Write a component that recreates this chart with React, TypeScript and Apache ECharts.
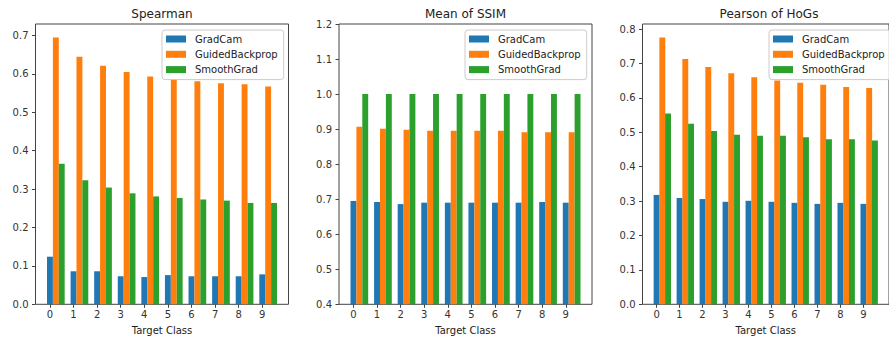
import React, { useEffect, useRef } from "react";
import * as echarts from "echarts";

const classes = [0, 1, 2, 3, 4, 5, 6, 7, 8, 9];
const methodNames = ["GradCam", "GuidedBackprop", "SmoothGrad"];
const methodOffsets = [0, 0.25, 0.5];
const colors = ["#1f77b4", "#ff7f0e", "#2ca02c"];

const titles = ["Spearman", "Mean of SSIM", "Pearson of HoGs"];

const spearmanGradCam = [0.124, 0.086, 0.086, 0.073, 0.071, 0.076, 0.073, 0.073, 0.073, 0.078];
const spearmanGuided = [0.695, 0.645, 0.621, 0.605, 0.593, 0.587, 0.581, 0.576, 0.573, 0.567];
const spearmanSmooth = [0.366, 0.323, 0.304, 0.289, 0.281, 0.277, 0.273, 0.27, 0.264, 0.264];

const ssimGradCam = [0.695, 0.692, 0.686, 0.69, 0.69, 0.69, 0.69, 0.69, 0.692, 0.69];
const ssimGuided = [0.907, 0.901, 0.898, 0.895, 0.895, 0.895, 0.895, 0.891, 0.891, 0.891];
const ssimSmooth = [1.0, 1.0, 1.0, 1.0, 1.0, 1.0, 1.0, 1.0, 1.0, 1.0];

const hogGradCam = [0.318, 0.309, 0.306, 0.298, 0.301, 0.298, 0.295, 0.292, 0.295, 0.292];
const hogGuided = [0.776, 0.713, 0.69, 0.672, 0.66, 0.651, 0.644, 0.638, 0.632, 0.629];
const hogSmooth = [0.555, 0.525, 0.504, 0.493, 0.49, 0.49, 0.486, 0.48, 0.48, 0.476];

const yTicks1 = [0, 0.1, 0.2, 0.3, 0.4, 0.5, 0.6, 0.7];
const yTicks2 = [0.4, 0.5, 0.6, 0.7, 0.8, 0.9, 1.0, 1.1, 1.2];
const yTicks3 = [0, 0.1, 0.2, 0.3, 0.4, 0.5, 0.6, 0.7, 0.8];

const panelData = [
  [spearmanGradCam, spearmanGuided, spearmanSmooth],
  [ssimGradCam, ssimGuided, ssimSmooth],
  [hogGradCam, hogGuided, hogSmooth],
];
const yRanges = [
  [0, 0.73],
  [0.4, 1.2],
  [0, 0.815],
];
const yTicks = [yTicks1, yTicks2, yTicks3];

const FONT = "DejaVu Sans";
const gridLefts = [35.5, 339, 642.5];
const gridWidth = 253;
const gridTop = 24;
const gridHeight = 280.3;
const xMin = -0.6125;
const xMax = 10.1125;
const barPx = (0.25 * gridWidth) / (xMax - xMin);
const legendLefts = [162, 465, 769];

export default function App() {
  const ref = useRef<HTMLDivElement>(null);
  useEffect(() => {
    if (!ref.current) return;
    const chart = echarts.init(ref.current, null, { renderer: "svg" });
    const grids = gridLefts.map((l) => ({
      left: l,
      top: gridTop,
      width: gridWidth,
      height: gridHeight,
      show: true,
      borderColor: "#444",
      borderWidth: 1,
      backgroundColor: "transparent",
    }));
    const xAxes = gridLefts.map((_, g) => ({
      type: "value",
      gridIndex: g,
      min: xMin,
      max: xMax,
      name: "Target Class",
      nameLocation: "middle",
      nameGap: 21,
      nameTextStyle: { fontFamily: FONT, fontSize: 10, color: "#222" },
      axisLine: { show: false, onZero: false },
      splitLine: { show: false },
      axisTick: {
        show: true,
        length: 3.5,
        lineStyle: { color: "#444", width: 1 },
        customValues: classes,
      },
      axisLabel: {
        show: true,
        margin: 5,
        fontFamily: FONT,
        fontSize: 10,
        color: "#333",
        customValues: classes,
        formatter: (v: number) => String(Math.round(v)),
      },
    }));
    const yAxes = gridLefts.map((_, g) => ({
      type: "value",
      gridIndex: g,
      min: yRanges[g][0],
      max: yRanges[g][1],
      axisLine: { show: false, onZero: false },
      splitLine: { show: false },
      axisTick: {
        show: true,
        length: 3.5,
        lineStyle: { color: "#444", width: 1 },
        customValues: yTicks[g],
      },
      axisLabel: {
        show: true,
        margin: 7,
        fontFamily: FONT,
        fontSize: 10,
        color: "#333",
        customValues: yTicks[g],
        formatter: (v: number) => v.toFixed(1),
      },
    }));
    const series: any[] = [];
    panelData.forEach((sets, g) => {
      sets.forEach((vals, m) => {
        series.push({
          type: "bar",
          name: methodNames[m],
          xAxisIndex: g,
          yAxisIndex: g,
          barWidth: barPx,
          barGap: "-100%",
          itemStyle: { color: colors[m] },
          data: classes.map((c, i) => [c + methodOffsets[m], vals[i]]),
        });
      });
    });
    const legends = legendLefts.map((l) => ({
      left: l,
      top: 30,
      orient: "vertical",
      icon: "rect",
      itemWidth: 20,
      itemHeight: 7,
      itemGap: 3.3,
      padding: [3, 6, 4, 4],
      backgroundColor: "rgba(255,255,255,0.8)",
      borderColor: "#ccc",
      borderWidth: 1,
      borderRadius: 3,
      selectedMode: false,
      textStyle: {
        fontFamily: FONT,
        fontSize: 10,
        color: "#222",
        lineHeight: 12,
        padding: [0, 0, 0, 4],
      },
      data: methodNames,
    }));
    const titleOpts = titles.map((t, g) => ({
      text: t,
      left: gridLefts[g] + gridWidth / 2,
      top: 8,
      padding: 0,
      textAlign: "center",
      textStyle: { fontFamily: FONT, fontSize: 12, fontWeight: "normal", color: "#222" },
    }));
    chart.setOption({
      animation: false,
      backgroundColor: "#fff",
      title: titleOpts,
      grid: grids,
      xAxis: xAxes,
      yAxis: yAxes,
      legend: legends,
      series,
    });
    return () => chart.dispose();
  }, []);
  return (
    <div
      ref={ref}
      style={{ position: "absolute", left: 0, top: 0, width: 889, height: 343 }}
    />
  );
}
